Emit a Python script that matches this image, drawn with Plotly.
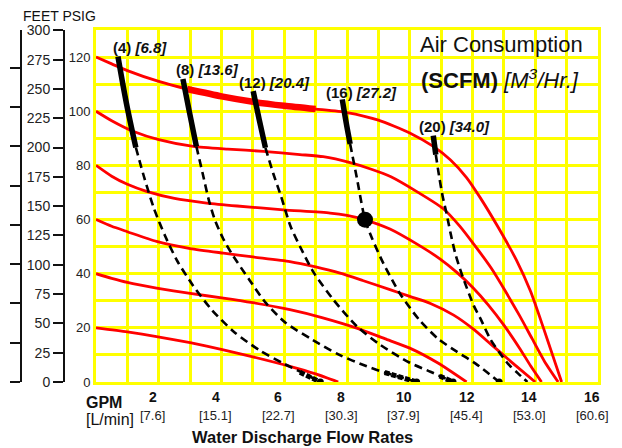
import plotly.graph_objects as go

# ---------------- data ----------------
GPM_LABEL_TICKS = [2, 4, 6, 8, 10, 12, 14, 16]
LPM_LABELS = ["[7.6]", "[15.1]", "[22.7]", "[30.3]", "[37.9]", "[45.4]", "[53.0]", "[60.6]"]
GPM_GRID = list(range(0, 17))
PSIG_LABELED = [0, 20, 40, 60, 80, 100, 120]
FEET_TICKS = list(range(0, 301, 25))
BAR_TICKS = list(range(0, 9))
PSI_MAX = 130
PSI_TO_FEET = 2.31
PSI_TO_BAR = 0.0689476

# pump curves (air inlet pressure psig) : GPM / discharge psig
C20_GPM = [0, 1, 1.93, 3, 4.06, 5, 6.18, 7, 7.72]
C20_PSI = [20, 18.5, 16.8, 14.5, 11.9, 9.3, 5.8, 3, 0]
C40_GPM = [0, 0.5, 1.0, 1.93, 3, 4.06, 5, 6.18, 7.2, 8.31, 9.2, 10.0, 10.9, 11.81]
C40_PSI = [40, 38.3, 36.8, 34.7, 32.7, 31.0, 29.3, 26.7, 23.8, 19.9, 16, 12.5, 7, 0]
C60_GPM = [0, 0.5, 1.0, 1.93, 3, 4.06, 5, 6.18, 7, 7.78, 8.5, 9.37, 10, 10.66, 11.4, 12.02, 12.6, 13.3, 14.0]
C60_PSI = [60, 57.5, 55.5, 51.9, 49.3, 47.6, 46.2, 44.5, 42.5, 40.2, 37.5, 34.1, 31.6, 29, 24.7, 19.6, 13.8, 6.8, 0]
C80_GPM = [0, 0.5, 1.0, 1.61, 2.5, 3.53, 4.5, 5.97, 7.46, 8.0, 8.57, 9.37, 10.22, 10.96, 11.5, 12.0, 12.5, 13.0, 13.5, 13.85, 14.2]
C80_PSI = [80, 76, 73, 70.4, 67.8, 66.1, 65, 63.6, 62.4, 61.5, 59.9, 56.5, 51, 45.5, 40.5, 35, 28.5, 21, 12.5, 6, 0]
C100_GPM = [0, 0.5, 1.2, 2, 3.1, 4.2, 5.33, 6.5, 7.24, 8.1, 8.8, 9.4, 10.2, 11.07, 11.6, 12.1, 12.6, 13.05, 13.5, 13.9, 14.3, 14.73]
C100_PSI = [100, 96.5, 92.5, 89.5, 87, 86, 85.2, 84, 83.2, 81, 78.5, 75.8, 70.5, 64, 57.5, 50, 42, 33.5, 24.5, 16, 7.5, 0]
C120_GPM = [0, 0.5, 1, 2, 2.9, 4, 5, 6, 7, 8, 9, 10, 10.75, 11.3, 11.81, 12.25, 12.8, 13.4, 13.85, 14.26, 14.55, 14.84]
C120_PSI = [120, 117.5, 115, 111, 108.2, 105.5, 103.5, 102, 100.8, 99.5, 96.7, 92, 87, 82, 75.5, 68, 57.5, 45, 33.5, 20, 10, 0]
INLET_PSI = [20, 40, 60, 80, 100, 120]
HIGHLIGHT_GPM_RANGE = [2.9, 7.0]   # emphasised span of the 120 psig curve

# air consumption lines (SCFM) [m3/h]
AIR_SCFM = [4, 8, 12, 16, 20]
AIR_M3H = ["6.8", "13.6", "20.4", "27.2", "34.0"]

A4_SOLID_GPM = [0.70, 0.97, 1.27]
A4_SOLID_PSI = [120.2, 102.9, 86.6]
A4_DASH_GPM = [1.27, 1.55, 1.85, 2.2, 2.6, 3.1, 3.7, 4.4, 5.2, 6.0, 6.6, 7.15]
A4_DASH_PSI = [86.6, 75, 64, 54, 44.5, 35.5, 26.5, 18.5, 11.8, 6.7, 3.3, 0]
A4_END_GPM = [6.5, 6.8, 7.15]
A4_END_PSI = [3.6, 2.0, 0]

A8_SOLID_GPM = [2.77, 2.98, 3.2]
A8_SOLID_PSI = [111.9, 99.5, 87]
A8_DASH_GPM = [3.2, 3.4, 3.6, 3.8, 4.05, 4.32, 4.89, 5.42, 6.05, 6.9, 7.74, 8.63, 9.26, 9.8, 10.22]
A8_DASH_PSI = [87, 77, 67, 59.5, 53, 47.5, 37.7, 29.1, 21.8, 15.6, 10.1, 5.8, 3.3, 1.5, 0]
A8_END_GPM = [9.2, 9.7, 10.22]
A8_END_PSI = [3.5, 1.7, 0]

A12_SOLID_GPM = [5.01, 5.2, 5.4]
A12_SOLID_PSI = [107.4, 97, 86.5]
A12_DASH_GPM = [5.4, 5.65, 5.9, 6.2, 6.53, 6.95, 7.58, 8.32, 9.05, 10.0, 10.66, 11.38]
A12_DASH_PSI = [86.5, 77, 68.5, 57.5, 49.4, 40.2, 30.2, 20.5, 13.8, 7.1, 3.8, 0]
A12_END_GPM = [10.95, 11.38]
A12_END_PSI = [2.2, 0]

A16_SOLID_GPM = [7.85, 7.97, 8.1]
A16_SOLID_PSI = [104.4, 96, 87.9]
A16_DASH_GPM = [8.1, 8.32, 8.574, 8.8, 9.16, 9.68, 10.3, 10.9, 11.5, 12.1, 12.85]
A16_DASH_PSI = [87.9, 75, 59.96, 53, 43.8, 32.8, 23, 16, 11.2, 6.8, 0]
A16_END_GPM = [12.85]
A16_END_PSI = [0]

A20_SOLID_GPM = [10.75, 10.83]
A20_SOLID_PSI = [91, 84]
A20_DASH_GPM = [10.83, 10.95, 11.05, 11.17, 11.3, 11.45, 11.65, 12.04, 12.25, 12.57, 12.85, 13.15, 13.45, 13.75]
A20_DASH_PSI = [84, 75, 68.5, 62.4, 55, 47.5, 40.1, 28.2, 23.5, 15.8, 11, 6.5, 3.2, 0]
A20_END_GPM = []
A20_END_PSI = []

OPERATING_POINT_GPM = [8.574]
OPERATING_POINT_PSI = [59.96]

# ---------------- figure ----------------
FONT = "Liberation Sans, Arial, sans-serif"
TXT = "#111111"
RED = "#FF0000"
YEL = "#FFFF00"

PAGE_OFF = 8          # default body margin of the html page
FW, FH = 622 - PAGE_OFF, 448 - PAGE_OFF
L, R, T, B = 0, 24, 22, 66
W = FW - L - R
H = FH - T - B


def fx(px):
    """reference-window pixel x -> paper x"""
    return (px - PAGE_OFF - L) / W


def fy(py):
    """reference-window pixel y -> paper y"""
    return (FH - B - (py - PAGE_OFF)) / H


fig = go.Figure()

curves = [(C20_GPM, C20_PSI), (C40_GPM, C40_PSI), (C60_GPM, C60_PSI),
          (C80_GPM, C80_PSI), (C100_GPM, C100_PSI), (C120_GPM, C120_PSI)]
for (g, p), ip in zip(curves, INLET_PSI):
    fig.add_trace(go.Scatter(x=g, y=p, mode="lines", name=f"{ip} psig",
                             line=dict(color=RED, width=2.8, shape="spline", smoothing=0.6),
                             hoverinfo="skip"))

hg = [g for g in C120_GPM if HIGHLIGHT_GPM_RANGE[0] <= g <= HIGHLIGHT_GPM_RANGE[1]]
hp = [p for g, p in zip(C120_GPM, C120_PSI) if HIGHLIGHT_GPM_RANGE[0] <= g <= HIGHLIGHT_GPM_RANGE[1]]
fig.add_trace(go.Scatter(x=hg, y=hp, mode="lines",
                         line=dict(color=RED, width=6.5, shape="spline", smoothing=0.6),
                         hoverinfo="skip"))

air = [
    (A4_SOLID_GPM, A4_SOLID_PSI, A4_DASH_GPM, A4_DASH_PSI, A4_END_GPM, A4_END_PSI),
    (A8_SOLID_GPM, A8_SOLID_PSI, A8_DASH_GPM, A8_DASH_PSI, A8_END_GPM, A8_END_PSI),
    (A12_SOLID_GPM, A12_SOLID_PSI, A12_DASH_GPM, A12_DASH_PSI, A12_END_GPM, A12_END_PSI),
    (A16_SOLID_GPM, A16_SOLID_PSI, A16_DASH_GPM, A16_DASH_PSI, A16_END_GPM, A16_END_PSI),
    (A20_SOLID_GPM, A20_SOLID_PSI, A20_DASH_GPM, A20_DASH_PSI, A20_END_GPM, A20_END_PSI),
]
for sg, sp, dg, dp, eg, ep in air:
    fig.add_trace(go.Scatter(x=dg, y=dp, mode="lines",
                             line=dict(color="black", width=2.6, dash="8px,5px",
                                       shape="spline", smoothing=0.7),
                             hoverinfo="skip"))
    fig.add_trace(go.Scatter(x=sg, y=sp, mode="lines",
                             line=dict(color="black", width=5.5, shape="spline"),
                             hoverinfo="skip"))
    if len(eg) > 1:
        fig.add_trace(go.Scatter(x=eg, y=ep, mode="lines",
                                 line=dict(color="black", width=5, dash="5px,2px"),
                                 hoverinfo="skip"))
    if len(eg) > 0:
        fig.add_trace(go.Scatter(x=eg[-1:], y=ep[-1:], mode="markers",
                                 marker=dict(color="black", size=7),
                                 hoverinfo="skip"))

fig.add_trace(go.Scatter(x=OPERATING_POINT_GPM, y=OPERATING_POINT_PSI, mode="markers",
                         marker=dict(color="black", size=16), hoverinfo="skip"))

# helper traces so the feet and bar axes exist
fig.add_trace(go.Scatter(x=[0], y=[0], yaxis="y2", mode="markers",
                         marker=dict(opacity=0), hoverinfo="skip"))
fig.add_trace(go.Scatter(x=[0], y=[0], yaxis="y3", mode="markers",
                         marker=dict(opacity=0), hoverinfo="skip"))

annotations = []
# x tick labels
for g, lab in zip(GPM_LABEL_TICKS, LPM_LABELS):
    annotations.append(dict(x=g, y=fy(397), xref="x", yref="paper", text=f"<b>{g}</b>",
                            showarrow=False, xshift=-6, yanchor="middle",
                            font=dict(size=14, color=TXT, family=FONT)))
    annotations.append(dict(x=g, y=fy(415), xref="x", yref="paper", text=lab,
                            showarrow=False, xshift=-6, yanchor="middle",
                            font=dict(size=13, color="#222", family=FONT)))
annotations += [
    dict(x=fx(84), y=fy(402), xref="paper", yref="paper", text="<b>GPM</b>",
         showarrow=False, xanchor="left", yanchor="middle",
         font=dict(size=16, color=TXT, family=FONT)),
    dict(x=fx(84), y=fy(419), xref="paper", yref="paper", text="[L/min]",
         showarrow=False, xanchor="left", yanchor="middle",
         font=dict(size=16, color=TXT, family=FONT)),
    dict(x=fx(302), y=fy(437), xref="paper", yref="paper", text="<b>Water Discharge Flow Rates</b>",
         showarrow=False, xanchor="center", yanchor="middle",
         font=dict(size=16.5, color=TXT, family=FONT)),
    dict(x=fx(22), y=fy(16), xref="paper", yref="paper", text="FEET PSIG",
         showarrow=False, xanchor="left", yanchor="middle", borderpad=0,
         font=dict(size=14, color=TXT, family=FONT)),
    dict(x=10.27, y=124.6, xref="x", yref="y", text="Air Consumption",
         showarrow=False, xanchor="left", yanchor="middle",
         font=dict(size=22, color=TXT, family=FONT)),
    dict(x=10.3, y=112.0, xref="x", yref="y",
         text="<b>(SCFM)</b> <i>[M<sup>3</sup>/Hr.]</i>",
         showarrow=False, xanchor="left", yanchor="middle",
         font=dict(size=22, color=TXT, family=FONT)),
]
label_xshift = [-7, -9, -16, -18, -16]
label_yshift = [9, 10, 9, 7, 9]
for (sg, sp, *_), scfm, m3, xs, ys in zip(air, AIR_SCFM, AIR_M3H, label_xshift, label_yshift):
    annotations.append(dict(x=sg[0], y=sp[0], xref="x", yref="y",
                            text=f"<b>({scfm}) <i>[{m3}]</i></b>", showarrow=False,
                            xanchor="left", yanchor="middle", xshift=xs, yshift=ys,
                            font=dict(size=15, color=TXT, family=FONT)))

fig.update_layout(
    width=FW, height=FH,
    margin=dict(l=L, r=R, t=T, b=B, autoexpand=False),
    paper_bgcolor="white", plot_bgcolor="white",
    showlegend=False, hovermode=False,
    font=dict(family=FONT, color=TXT),
    xaxis=dict(domain=[fx(96), 1], range=[0, 16], tickvals=GPM_GRID, showticklabels=False,
               ticks="", showgrid=True, gridcolor=YEL, gridwidth=3, zeroline=False,
               showline=True, mirror=True, linecolor=YEL, linewidth=3),
    yaxis=dict(range=[0, PSI_MAX], tickvals=PSIG_LABELED, ticks="",
               tickfont=dict(size=13, color="#222", family=FONT),
               showgrid=True, gridcolor=YEL, gridwidth=3, zeroline=False,
               minor=dict(dtick=10, showgrid=True, gridcolor=YEL, gridwidth=3, ticks=""),
               showline=True, mirror=True, linecolor=YEL, linewidth=3),
    yaxis2=dict(overlaying="y", anchor="free", position=fx(64), side="left",
                range=[0, PSI_MAX * PSI_TO_FEET], tickvals=FEET_TICKS,
                ticks="outside", ticklen=10, tickwidth=2, tickcolor=TXT,
                showline=True, linecolor=TXT, linewidth=2, showgrid=False, zeroline=False,
                tickfont=dict(size=14, color="#222", family=FONT)),
    yaxis3=dict(overlaying="y", anchor="free", position=fx(21), side="left",
                range=[0, PSI_MAX * PSI_TO_BAR], tickvals=BAR_TICKS,
                ticks="outside", ticklen=10, tickwidth=2, tickcolor=TXT,
                showline=True, linecolor=TXT, linewidth=2, showgrid=False, zeroline=False,
                showticklabels=False),
    annotations=annotations,
)

fig.write_html("out.html")
